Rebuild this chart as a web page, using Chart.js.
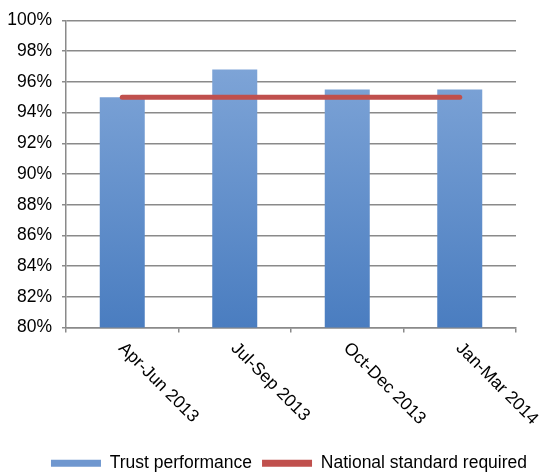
<!DOCTYPE html>
<html>
<head>
<meta charset="utf-8">
<script src="https://cdn.jsdelivr.net/npm/chart.js@4/dist/chart.umd.min.js"></script>
<style>
  html, body { margin: 0; padding: 0; background: #fff; }
  #wrap { width: 539px; height: 473px; position: relative; }
</style>
</head>
<body>
<div id="wrap"><canvas id="c" width="539" height="473"></canvas></div>
<script>
// Quarterly categories
const categories = ['Apr-Jun 2013', 'Jul-Sep 2013', 'Oct-Dec 2013', 'Jan-Mar 2014'];
// Trust performance, percent
const trustPerformance = [95.0, 96.8, 95.5, 95.5];
// National standard required, percent
const nationalStandard = [95, 95, 95, 95];
// Y axis range and step, percent
const yMin = 80, yMax = 100, yStep = 2;

const FONT = 'Arial, "Liberation Sans", sans-serif';
const FONT_SIZE = 17.5;
const GRID = '#8a8a8a';
const BLUE_TOP = '#87abdb';
const BLUE_BOTTOM = '#4a7dc0';
const RED = '#c0504d';

function barGradient(ctx) {
  const chart = ctx.chart;
  const area = chart.chartArea;
  if (!area) return BLUE_BOTTOM;
  const g = chart.ctx.createLinearGradient(0, area.top, 0, area.bottom);
  g.addColorStop(0, BLUE_TOP);
  g.addColorStop(1, BLUE_BOTTOM);
  return g;
}

// Category labels slanted downwards to the right, starting under each category
const slantedLabels = {
  id: 'slantedLabels',
  afterDraw(chart) {
    const xs = chart.scales.x;
    const c = chart.ctx;
    c.save();
    c.font = FONT_SIZE + 'px ' + FONT;
    c.fillStyle = '#000';
    c.textAlign = 'left';
    c.textBaseline = 'middle';
    categories.forEach((lab, i) => {
      const x = xs.getPixelForValue(i);
      c.save();
      c.translate(x - 1, xs.top + 18);
      c.rotate(Math.PI / 4);
      c.fillText(lab, 0, 0);
      c.restore();
    });
    c.restore();
  }
};

// Nudge the legend row a little to the right of the canvas centre
const legendShift = {
  id: 'legendShift',
  afterLayout(chart) {
    const lg = chart.legend;
    if (lg) { lg.left += 31; lg.right += 31; }
  }
};

new Chart(document.getElementById('c'), {
  type: 'bar',
  data: {
    labels: categories,
    datasets: [
      {
        type: 'bar',
        label: 'Trust performance',
        data: trustPerformance,
        backgroundColor: barGradient,
        borderWidth: 0,
        categoryPercentage: 1,
        barPercentage: 0.4,
        order: 2
      },
      {
        type: 'line',
        label: 'National standard required',
        data: nationalStandard,
        borderColor: RED,
        backgroundColor: RED,
        borderWidth: 5,
        borderCapStyle: 'round',
        pointRadius: 0,
        pointHoverRadius: 0,
        tension: 0,
        fill: false,
        order: 1
      }
    ]
  },
  options: {
    responsive: false,
    animation: false,
    events: [],
    layout: { padding: { top: 17, right: 23, bottom: -9, left: 0 } },
    plugins: {
      tooltip: { enabled: false },
      legend: {
        position: 'bottom',
        labels: {
          font: { family: FONT, size: FONT_SIZE },
          color: '#000',
          boxWidth: 50,
          boxHeight: 7,
          padding: 10,
          generateLabels(chart) {
            return [
              { text: 'Trust performance', fillStyle: '#6f97cf', strokeStyle: '#6f97cf', lineWidth: 0, datasetIndex: 0 },
              { text: 'National standard required', fillStyle: RED, strokeStyle: RED, lineWidth: 0, datasetIndex: 1 }
            ];
          }
        }
      }
    },
    scales: {
      x: {
        offset: true,
        grid: { drawOnChartArea: false, drawTicks: true, tickLength: 5, color: GRID, lineWidth: 1.5, offset: true },
        border: { color: GRID, width: 1.5 },
        ticks: { display: false },
        afterFit(s) { s.height = 117; }
      },
      y: {
        min: yMin,
        max: yMax,
        ticks: {
          stepSize: yStep,
          callback: v => v + '%',
          font: { family: FONT, size: FONT_SIZE },
          color: '#000',
          padding: 10
        },
        grid: { color: GRID, lineWidth: 1.5, tickLength: 4 },
        border: { color: GRID, width: 1.5 },
        afterFit(s) { s.width = 66; }
      }
    }
  },
  plugins: [slantedLabels, legendShift]
});
</script>
</body>
</html>
